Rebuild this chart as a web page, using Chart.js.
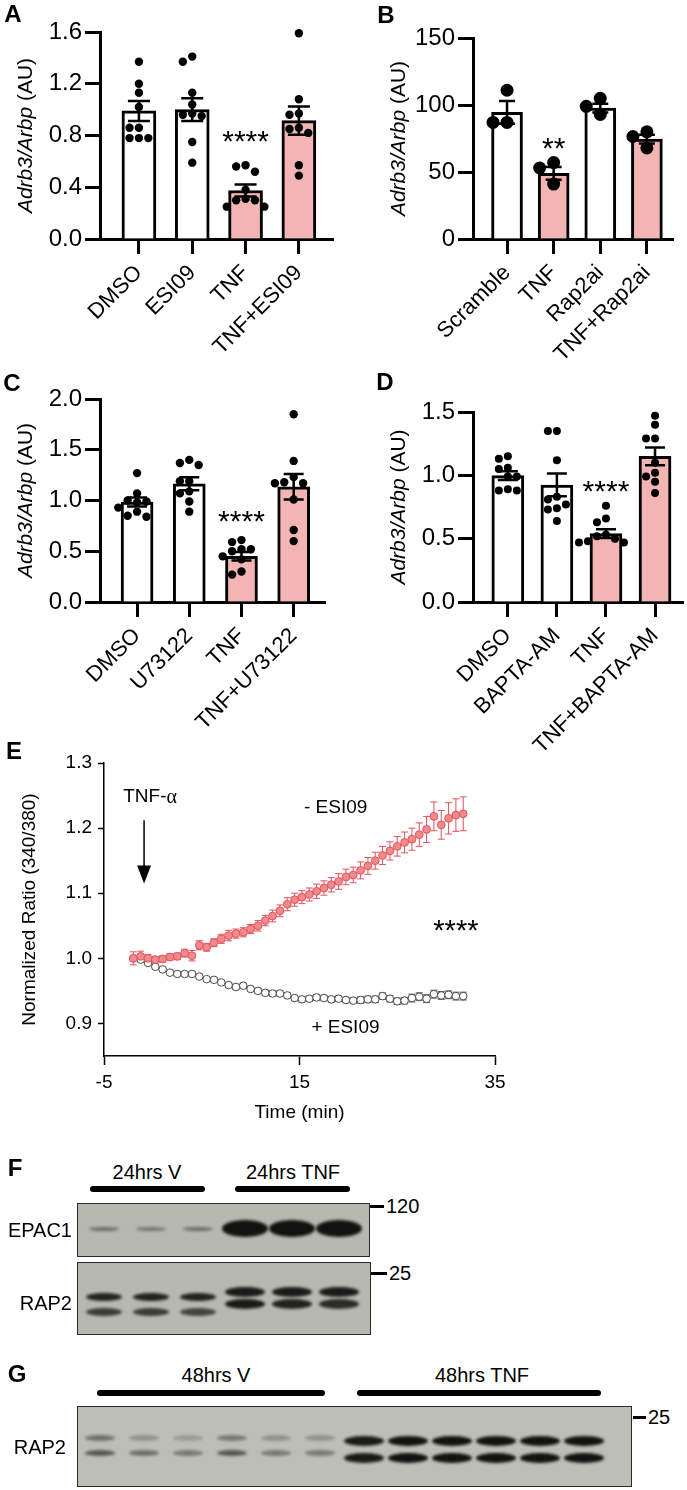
<!DOCTYPE html>
<html>
<head>
<meta charset="utf-8">
<script src="https://cdn.jsdelivr.net/npm/chart.js@4.4.1/dist/chart.umd.min.js"></script>
<style>
  body { margin: 0; background: #fff; width: 687px; height: 1490px; position: relative; overflow: hidden;
         font-family: "Liberation Sans", Arial, Helvetica, sans-serif; color: #000; }
  canvas { position: absolute; }
  .t { position: absolute; white-space: nowrap; line-height: 1; }
  .bar { position: absolute; height: 6px; background: #000; border-radius: 3px; }
  .dash { position: absolute; height: 3px; background: #000; }
  .box { position: absolute; border: 1px solid #2a2a28; box-sizing: border-box; display: flex; }
  .lane { position: relative; flex: none; }
  .band { position: absolute; left: 50%; transform: translateX(-50%); background: #12120f;
          border-radius: 50%; filter: blur(1.4px); }
  #fEpac { background: #b7b8af; padding-left: 2px; }
  #fEpac .lane { width: 47px; height: 100%; }
  #fEpac .band.v { width: 30px; height: 4px; top: 23px; }
  #fEpac .band.t { width: 46px; height: 17px; top: 16px; }
  #fRap { background: #b7b8af; padding-left: 2px; }
  #fRap .lane { width: 47px; height: 100%; }
  #fRap .band.v { width: 36px; height: 8px; }
  #fRap .band.v.up { top: 30px; }
  #fRap .band.v.lo { top: 45px; }
  #fRap .band.t { width: 40px; height: 10px; }
  #fRap .band.t.up { top: 24px; }
  #fRap .band.t.lo { top: 36px; }
  #gRap { background: #bdbfb6; }
  #gRap .lane { width: 44px; height: 100%; }
  #gRap .band.v { width: 30px; height: 6px; }
  #gRap .band.v.up { top: 28px; }
  #gRap .band.v.lo { top: 43px; }
  #gRap .band.t { width: 40px; height: 10px; }
  #gRap .band.t.up { top: 29px; }
  #gRap .band.t.lo { top: 46px; }
</style>
</head>
<body>
<canvas id="cA" width="340" height="380" style="left:0;top:0"></canvas>
<canvas id="cB" width="347" height="380" style="left:340px;top:0"></canvas>
<canvas id="cC" width="340" height="380" style="left:0;top:370px"></canvas>
<canvas id="cD" width="347" height="380" style="left:340px;top:370px"></canvas>
<canvas id="cE" width="520" height="400" style="left:0;top:740px"></canvas>

<script>
// data

const catsA = ['DMSO', 'ESI09', 'TNF', 'TNF+ESI09'];
const dotsA = [
    [1.37, 1.20, 1.13, 1.02, 0.86, 0.86, 0.78, 0.78, 0.78],
    [1.41, 1.37, 1.13, 1.04, 0.97, 0.96, 0.95, 0.75, 0.59],
    [0.57, 0.56, 0.52, 0.38, 0.31, 0.30, 0.30, 0.25, 0.25],
    [1.59, 1.08, 0.97, 0.96, 0.86, 0.85, 0.82, 0.57, 0.49]
];
const meansA = [0.99, 1.0, 0.375, 0.915];
const semsA = [0.077, 0.088, 0.046, 0.11];
const yTicksA = [0, 0.4, 0.8, 1.2, 1.6];
const yLabelsA = ['0.0', '0.4', '0.8', '1.2', '1.6'];
const starsA = {idx: 2, y: 0.79, text: '****'};

const catsB = ['Scramble', 'TNF', 'Rap2ai', 'TNF+Rap2ai'];
const dotsB = [
    [111, 87, 87],
    [57, 53, 41],
    [105, 99, 93],
    [80, 76.5, 68]
];
const meansB = [94.5, 49, 97.7, 74.5];
const semsB = [8.5, 4.7, 3.3, 3.3];
const yTicksB = [0, 50, 100, 150];
const yLabelsB = ['0', '50', '100', '150'];
const starsB = {idx: 1, y: 71.5, text: '**'};

const catsC = ['DMSO', 'U73122', 'TNF', 'TNF+U73122'];
const dotsC = [
    [1.27, 1.07, 1.00, 0.99, 0.98, 0.93, 0.89, 0.85, 0.84],
    [1.40, 1.37, 1.35, 1.19, 1.19, 1.09, 1.07, 0.99, 0.89],
    [0.61, 0.59, 0.52, 0.52, 0.50, 0.45, 0.42, 0.30, 0.27],
    [1.85, 1.39, 1.23, 1.18, 1.17, 1.17, 1.01, 0.71, 0.60]
];
const meansC = [0.985, 1.165, 0.45, 1.135];
const semsC = [0.045, 0.065, 0.042, 0.125];
const yTicksC = [0, 0.5, 1.0, 1.5, 2.0];
const yLabelsC = ['0.0', '0.5', '1.0', '1.5', '2.0'];
const starsC = {idx: 2, y: 0.84, text: '****'};

const catsD = ['DMSO', 'BAPTA-AM', 'TNF', 'TNF+BAPTA-AM'];
const dotsD = [
    [1.15, 1.13, 1.06, 1.05, 0.99, 0.99, 0.89, 0.88, 0.88],
    [1.35, 1.35, 1.12, 0.83, 0.81, 0.77, 0.74, 0.73, 0.64],
    [0.76, 0.66, 0.63, 0.53, 0.52, 0.50, 0.48, 0.47, 0.47],
    [1.47, 1.40, 1.29, 1.29, 1.10, 1.02, 0.99, 0.95, 0.86]
];
const meansD = [0.998, 0.924, 0.54, 1.15];
const semsD = [0.035, 0.09, 0.035, 0.07];
const yTicksD = [0, 0.5, 1.0, 1.5];
const yLabelsD = ['0.0', '0.5', '1.0', '1.5'];
const starsD = {idx: 2, y: 0.91, text: '****'};

// panel E: calcium ratio over time
const timeE = [-2, -1.25, -0.5, 0.25, 1, 1.75, 2.5, 3.25, 4, 4.75, 5.5, 6.25, 7, 7.75, 8.5, 9.25,
    10, 10.75, 11.5, 12.25, 13, 13.75, 14.5, 15.25, 16, 16.75, 17.5, 18.25, 19, 19.75, 20.5, 21.25,
    22, 22.75, 23.5, 24.25, 25, 25.75, 26.5, 27.25, 28, 28.75, 29.5, 30.25, 31, 31.75];
const minusEsi = [1.000, 1.003, 1.000, 0.998, 0.999, 1.002, 1.003, 1.008, 1.004, 1.020, 1.017, 1.024,
    1.030, 1.035, 1.038, 1.040, 1.045, 1.050, 1.058, 1.065, 1.073, 1.083, 1.090, 1.094, 1.098, 1.103,
    1.108, 1.113, 1.118, 1.125, 1.128, 1.135, 1.142, 1.150, 1.158, 1.165, 1.172, 1.178, 1.183, 1.190,
    1.198, 1.218, 1.205, 1.215, 1.220, 1.222];
const minusEsiErr = [0.010, 0.008, 0.006, 0.005, 0.005, 0.005, 0.005, 0.006, 0.008, 0.007, 0.006, 0.006,
    0.007, 0.008, 0.007, 0.007, 0.007, 0.008, 0.008, 0.009, 0.009, 0.010, 0.010, 0.010, 0.010, 0.011,
    0.011, 0.011, 0.012, 0.012, 0.012, 0.013, 0.013, 0.013, 0.014, 0.014, 0.015, 0.016, 0.017, 0.018,
    0.020, 0.022, 0.022, 0.024, 0.025, 0.026];
const plusEsi = [1.000, 0.998, 0.993, 0.987, 0.983, 0.978, 0.976, 0.976, 0.976, 0.972, 0.968, 0.967,
    0.963, 0.959, 0.956, 0.958, 0.953, 0.950, 0.947, 0.946, 0.946, 0.943, 0.939, 0.937, 0.938, 0.940,
    0.939, 0.937, 0.938, 0.936, 0.935, 0.936, 0.937, 0.937, 0.942, 0.938, 0.934, 0.935, 0.939, 0.941,
    0.938, 0.945, 0.943, 0.944, 0.942, 0.942];
const plusEsiErr = [0, 0.002, 0.002, 0.002, 0.003, 0.003, 0.003, 0.003, 0.003, 0.003, 0.003, 0.003,
    0.003, 0.004, 0.004, 0.004, 0.004, 0.004, 0.004, 0.004, 0.004, 0.004, 0.004, 0.004, 0.004, 0.004,
    0.004, 0.004, 0.004, 0.004, 0.004, 0.005, 0.005, 0.005, 0.005, 0.005, 0.005, 0.005, 0.006, 0.006,
    0.006, 0.006, 0.006, 0.006, 0.006, 0.006];
const xTicksE = [-5, 15, 35];
const yTicksE = [0.9, 1.0, 1.1, 1.2, 1.3];
const yLabelsE = ['0.9', '1.0', '1.1', '1.2', '1.3'];
const notesE = [
    {x: 18.7, y: 1.231, text: '- ESI09'},
    {x: 19.7, y: 0.894, text: '+ ESI09'}
];
const starsE = {x: 31, y: 1.05, text: '****'};
const arrowE = {x: -0.9, from: 1.212, to: 1.115, label: 1.248};

// blots: band intensity per lane (0..1)
const groupsF = ['24hrs V', '24hrs TNF'];
const epac1F = [0.45, 0.4, 0.45, 1, 1, 1];
const rap2FUpper = [0.9, 0.9, 0.9, 0.95, 0.95, 0.95];
const rap2FLower = [0.75, 0.75, 0.7, 0.95, 0.9, 0.85];
const groupsG = ['48hrs V', '48hrs TNF'];
const rap2GUpper = [0.45, 0.25, 0.2, 0.4, 0.25, 0.25, 0.95, 1, 1, 1, 1, 1];
const rap2GLower = [0.6, 0.45, 0.4, 0.6, 0.4, 0.4, 0.95, 1, 1, 1, 1, 1];

// helpers

const FONT = '"Liberation Sans", Arial, Helvetica, sans-serif';
Chart.defaults.font.family = FONT;
Chart.defaults.color = '#000';
const PINK = '#f3b5b3';

// spread overlapping dots sideways (GraphPad style)
function swarm(vals, pxX, pxY, r){
    const placed = [];
    const order = vals.map((v,i)=>i).sort((a,b)=>vals[b]-vals[a]);
    const step = 2*r + 1;
    order.forEach(i=>{
        const v = vals[i];
        for(let k=0;k<12;k++){
            const dx = (k%2 ? -1 : 1)*Math.ceil(k/2)*step;
            if(placed.every(p=>Math.hypot(p.dx-dx,(p.v-v)*pxY) >= 2*r+0.5)){
                placed.push({dx, v});
                break;
            }
        }
    });
    return placed.map(p=>({x: p.dx/pxX, y: p.v}));
}

function barPanel(id, p){
    const c = p.canvas, pl = p.plot;
    const yMax = p.yTicks[p.yTicks.length-1];
    const pxX = (pl.right-pl.left)/(p.xMax-p.xMin);
    const pxY = (pl.bottom-pl.top)/(yMax-p.yTicks[0]);
    const dots = [];
    p.dots.forEach((vals,i)=>{
        swarm(vals, pxX, pxY, p.dotR).forEach(d=>dots.push({x: i+d.x, y: d.y}));
    });

    const extras = {
        id: 'extras',
        afterDatasetsDraw(chart){
            const {ctx, chartArea, scales: {x, y}} = chart;
            ctx.save();
            // error bars
            ctx.strokeStyle = '#000';
            ctx.lineWidth = 2.5;
            p.means.forEach((m,i)=>{
                const cx = x.getPixelForValue(i);
                const hi = y.getPixelForValue(m+p.sems[i]);
                const lo = y.getPixelForValue(m-p.sems[i]);
                ctx.beginPath();
                ctx.moveTo(cx, hi); ctx.lineTo(cx, lo);
                ctx.moveTo(cx-p.capW/2, hi); ctx.lineTo(cx+p.capW/2, hi);
                ctx.moveTo(cx-p.capW/2, lo); ctx.lineTo(cx+p.capW/2, lo);
                ctx.stroke();
            });
            // significance
            ctx.fillStyle = '#000';
            ctx.font = '30px ' + FONT;
            ctx.textAlign = 'center';
            ctx.textBaseline = 'alphabetic';
            const sm = ctx.measureText(p.stars.text);
            ctx.fillText(p.stars.text, x.getPixelForValue(p.stars.idx),
                y.getPixelForValue(p.stars.y) + (sm.actualBoundingBoxAscent-sm.actualBoundingBoxDescent)/2);
            // y title: italic gene names + plain unit
            ctx.translate(chartArea.left-74, (chartArea.top+chartArea.bottom)/2);
            ctx.rotate(-Math.PI/2);
            ctx.textAlign = 'left';
            ctx.textBaseline = 'middle';
            const itF = 'italic 21px ' + FONT, rF = '21px ' + FONT;
            ctx.font = itF;
            const w1 = ctx.measureText('Adrb3/Arbp').width;
            ctx.font = rF;
            const w2 = ctx.measureText(' (AU)').width;
            ctx.font = itF;
            ctx.fillText('Adrb3/Arbp', -(w1+w2)/2, 0);
            ctx.font = rF;
            ctx.fillText(' (AU)', -(w1+w2)/2+w1, 0);
            ctx.restore();
        }
    };

    const axisGrid = {drawOnChartArea: false, offset: false, tickLength: 15, tickWidth: 3, tickColor: '#000'};
    new Chart(document.getElementById(id), {
        data: {
            datasets: [
                {type: 'scatter', data: dots, pointRadius: p.dotR, pointBackgroundColor: '#000',
                    pointBorderWidth: 0, clip: false, order: 0},
                {type: 'bar', data: p.means.map((m,i)=>({x: i, y: m})), backgroundColor: p.fills,
                    borderColor: '#000', borderWidth: 3, barThickness: p.barW, order: 1}
            ]
        },
        options: {
            responsive: false,
            animation: false,
            events: [],
            layout: {padding: {top: pl.top-c.top, right: c.left+c.w-pl.right, left: 0, bottom: 0}},
            plugins: {legend: {display: false}, tooltip: {enabled: false}},
            scales: {
                x: {
                    type: 'linear', min: p.xMin, max: p.xMax, offset: false,
                    afterBuildTicks: s=>{ s.ticks = p.cats.map((cat,i)=>({value: i})); },
                    afterFit: s=>{
                        s.height = c.top+c.h-pl.bottom;
                        s.paddingLeft = 0; s.paddingRight = 0;
                    },
                    grid: axisGrid,
                    border: {width: 3, color: '#000'},
                    ticks: {autoSkip: false, minRotation: 45, maxRotation: 45, padding: 6,
                        font: {size: 22}, callback: (v,i)=>p.cats[i]}
                },
                y: {
                    type: 'linear', min: p.yTicks[0], max: yMax,
                    afterBuildTicks: s=>{ s.ticks = p.yTicks.map(v=>({value: v})); },
                    afterFit: s=>{
                        s.width = pl.left-c.left;
                        s.paddingTop = 0; s.paddingBottom = 0;
                    },
                    grid: axisGrid,
                    border: {width: 3, color: '#000'},
                    ticks: {padding: 3, font: {size: 24}, callback: (v,i)=>p.yLabels[i]}
                }
            }
        },
        plugins: [extras]
    });
}

const FILLS = ['#fff', '#fff', PINK, PINK];

barPanel('cA', {
    canvas: {left: 0, top: 0, w: 340, h: 380}, plot: {left: 100, right: 333, top: 32, bottom: 239},
    xMin: -0.73, xMax: 3.64, cats: catsA, dots: dotsA, means: meansA, sems: semsA,
    yTicks: yTicksA, yLabels: yLabelsA, stars: starsA, fills: FILLS, dotR: 4.2, barW: 34, capW: 22
});
barPanel('cB', {
    canvas: {left: 340, top: 0, w: 347, h: 380}, plot: {left: 473, right: 673, top: 38, bottom: 239},
    xMin: -0.73, xMax: 3.56, cats: catsB, dots: dotsB, means: meansB, sems: semsB,
    yTicks: yTicksB, yLabels: yLabelsB, stars: starsB, fills: ['#fff', PINK, '#fff', PINK], dotR: 6.5, barW: 31, capW: 16
});
barPanel('cC', {
    canvas: {left: 0, top: 370, w: 340, h: 380}, plot: {left: 100, right: 325, top: 399, bottom: 602},
    xMin: -0.71, xMax: 3.6, cats: catsC, dots: dotsC, means: meansC, sems: semsC,
    yTicks: yTicksC, yLabels: yLabelsC, stars: starsC, fills: FILLS, dotR: 4.2, barW: 32, capW: 20
});
barPanel('cD', {
    canvas: {left: 340, top: 370, w: 347, h: 380}, plot: {left: 473, right: 683, top: 412, bottom: 602},
    xMin: -0.71, xMax: 3.57, cats: catsD, dots: dotsD, means: meansD, sems: semsD,
    yTicks: yTicksD, yLabels: yLabelsD, stars: starsD, fills: FILLS, dotR: 4.0, barW: 32, capW: 20
});

// panel E

const RED = '#e2515c';
const noteE = {
    id: 'noteE',
    beforeDatasetsDraw(chart){
        const {ctx, scales: {x, y}} = chart;
        ctx.save();
        ctx.lineWidth = 1;
        [[minusEsi, minusEsiErr, RED], [plusEsi, plusEsiErr, '#555']].forEach(([vals, errs, col])=>{
            ctx.strokeStyle = col;
            vals.forEach((v,i)=>{
                if(!errs[i]) return;
                const cx = x.getPixelForValue(timeE[i]);
                const hi = y.getPixelForValue(v+errs[i]), lo = y.getPixelForValue(v-errs[i]);
                ctx.beginPath();
                ctx.moveTo(cx, hi); ctx.lineTo(cx, lo);
                ctx.moveTo(cx-3.5, hi); ctx.lineTo(cx+3.5, hi);
                ctx.moveTo(cx-3.5, lo); ctx.lineTo(cx+3.5, lo);
                ctx.stroke();
            });
        });
        ctx.restore();
    },
    afterDatasetsDraw(chart){
        const {ctx, scales: {x, y}} = chart;
        ctx.save();
        ctx.fillStyle = '#000';
        ctx.strokeStyle = '#000';
        ctx.textBaseline = 'middle';
        ctx.textAlign = 'center';
        ctx.font = '19px ' + FONT;
        notesE.forEach(n=>ctx.fillText(n.text, x.getPixelForValue(n.x), y.getPixelForValue(n.y)));
        // TNF-alpha label with serif alpha
        const ax = x.getPixelForValue(arrowE.x);
        const ly = y.getPixelForValue(arrowE.label);
        const w1 = ctx.measureText('TNF-').width;
        ctx.font = '20px "Liberation Serif", serif';
        const w2 = ctx.measureText('α').width;
        ctx.textAlign = 'left';
        ctx.font = '19px ' + FONT;
        ctx.fillText('TNF-', ax+6-(w1+w2)/2, ly);
        ctx.font = '20px "Liberation Serif", serif';
        ctx.fillText('α', ax+6-(w1+w2)/2+w1, ly+1);
        // arrow
        const y0 = y.getPixelForValue(arrowE.from), y1 = y.getPixelForValue(arrowE.to);
        ctx.lineWidth = 1.5;
        ctx.beginPath();
        ctx.moveTo(ax, y0); ctx.lineTo(ax, y1-10);
        ctx.stroke();
        ctx.beginPath();
        ctx.moveTo(ax-7, y1-18); ctx.lineTo(ax+7, y1-18); ctx.lineTo(ax, y1);
        ctx.closePath();
        ctx.fill();
        // stars
        ctx.font = '29px ' + FONT;
        ctx.textAlign = 'center';
        ctx.textBaseline = 'alphabetic';
        const sm = ctx.measureText(starsE.text);
        ctx.fillText(starsE.text, x.getPixelForValue(starsE.x),
            y.getPixelForValue(starsE.y) + (sm.actualBoundingBoxAscent-sm.actualBoundingBoxDescent)/2);
        ctx.restore();
    }
};

new Chart(document.getElementById('cE'), {
    data: {
        datasets: [
            {type: 'scatter', data: timeE.map((t,i)=>({x: t, y: minusEsi[i]})), pointRadius: 3.9,
                pointBackgroundColor: '#f28a8c', pointBorderColor: RED, pointBorderWidth: 1, order: 0},
            {type: 'scatter', data: timeE.map((t,i)=>({x: t, y: plusEsi[i]})), pointRadius: 3.8,
                pointBackgroundColor: '#fff', pointBorderColor: '#4a4a4a', pointBorderWidth: 1, order: 1}
        ]
    },
    options: {
        responsive: false,
        animation: false,
        events: [],
        layout: {padding: {top: 23, right: 25, left: 0, bottom: 0}},
        plugins: {legend: {display: false}, tooltip: {enabled: false}},
        scales: {
            x: {
                type: 'linear', min: -5, max: 35,
                afterBuildTicks: s=>{ s.ticks = xTicksE.map(v=>({value: v})); },
                afterFit: s=>{ s.height = 84; s.paddingLeft = 0; s.paddingRight = 0; },
                grid: {drawOnChartArea: false, tickLength: 9, tickWidth: 1.5, tickColor: '#000'},
                border: {width: 1.5, color: '#000'},
                ticks: {padding: 6, font: {size: 19}, maxRotation: 0},
                title: {display: true, text: 'Time (min)', font: {size: 19}, padding: {top: 0, bottom: 16}}
            },
            y: {
                type: 'linear', min: 0.85, max: 1.3,
                afterBuildTicks: s=>{ s.ticks = yTicksE.map(v=>({value: v})); },
                afterFit: s=>{ s.width = 104; s.paddingTop = 0; s.paddingBottom = 0; },
                grid: {drawOnChartArea: false, tickLength: 6, tickWidth: 1.5, tickColor: '#000'},
                border: {width: 1.5, color: '#000'},
                ticks: {padding: 6, font: {size: 19}, callback: (v,i)=>yLabelsE[i]},
                title: {display: true, text: 'Normalized Ratio (340/380)', font: {size: 19}, padding: {top: 18, bottom: 0}}
            }
        }
    },
    plugins: [noteE]
});

// blots and labels (DOM)

function txt(s, x, y, size, anchor, bold){
    const d = document.createElement('div');
    d.className = 't';
    d.textContent = s;
    d.style.left = x + 'px';
    d.style.top = y + 'px';
    d.style.fontSize = size + 'px';
    if(bold) d.style.fontWeight = 'bold';
    const tx = anchor==='c' ? '-50%' : anchor==='r' ? '-100%' : '0';
    d.style.transform = `translate(${tx},-50%)`;
    document.body.appendChild(d);
}
function rect(cls, l, t, w){
    const d = document.createElement('div');
    d.className = cls;
    d.style.left = l + 'px';
    d.style.top = t + 'px';
    d.style.width = w + 'px';
    document.body.appendChild(d);
}
function blot(id, l, t, w, h, rows, vLanes){
    const box = document.createElement('div');
    box.className = 'box';
    box.id = id;
    Object.assign(box.style, {left: l+'px', top: t+'px', width: w+'px', height: h+'px'});
    rows[0].vals.forEach((_,i)=>{
        const lane = document.createElement('div');
        lane.className = 'lane';
        rows.forEach(r=>{
            const b = document.createElement('div');
            b.className = 'band ' + (i < vLanes ? 'v ' : 't ') + r.cls;
            b.style.opacity = r.vals[i];
            lane.appendChild(b);
        });
        box.appendChild(lane);
    });
    document.body.appendChild(box);
}

// panel letters
[['A', 13, 14], ['B', 386, 15], ['C', 12, 383], ['D', 385, 382], ['E', 14, 751], ['F', 15, 1168], ['G', 17, 1374]]
    .forEach(([s,x,y])=>txt(s, x, y, 24, 'c', true));

// F
txt(groupsF[0], 147, 1172, 20, 'c');
txt(groupsF[1], 293, 1172, 20, 'c');
rect('bar', 90, 1186, 115);
rect('bar', 235, 1186, 115);
blot('fEpac', 77, 1203, 293, 54, [{cls: 'mid', vals: epac1F}], 3);
blot('fRap', 77, 1262, 294, 73, [{cls: 'up', vals: rap2FUpper}, {cls: 'lo', vals: rap2FLower}], 3);
txt('EPAC1', 72, 1230, 20, 'r');
txt('RAP2', 72, 1303, 20, 'r');
rect('dash', 370, 1205, 14);
txt('120', 386, 1206, 20, 'l');
rect('dash', 371, 1272, 16);
txt('25', 389, 1273, 20, 'l');

// G
txt(groupsG[0], 216, 1375, 20, 'c');
txt(groupsG[1], 482, 1375, 20, 'c');
rect('bar', 97, 1390, 228);
rect('bar', 357, 1390, 244);
blot('gRap', 77, 1406, 555, 81, [{cls: 'up', vals: rap2GUpper}, {cls: 'lo', vals: rap2GLower}], 6);
txt('RAP2', 66, 1447, 20, 'r');
rect('dash', 633, 1416, 13);
txt('25', 648, 1417, 20, 'l');
</script>
</body>
</html>
